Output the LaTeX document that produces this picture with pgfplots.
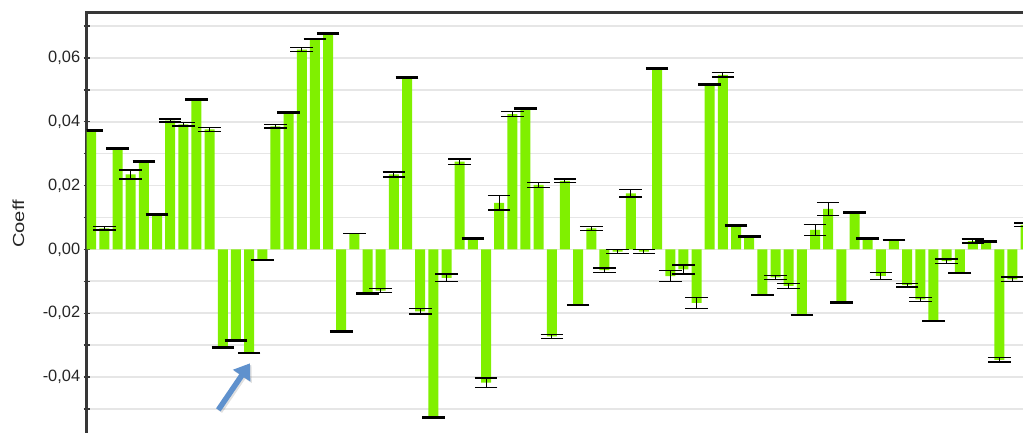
\documentclass[border=0pt]{standalone}
\usepackage{pgfplots}
\pgfplotsset{compat=1.18}
\usepackage{pgfplotstable}
\usepackage{graphicx}
\usepackage{fontspec}
\setmainfont{Liberation Sans}
\usetikzlibrary{arrows.meta}

\definecolor{barg}{RGB}{128,240,0}
\definecolor{gridc}{RGB}{230,230,230}
\definecolor{arrowc}{RGB}{95,145,205}
\definecolor{framec}{RGB}{55,55,55}

% coefficient, half-width of its error interval
\pgfplotstableread{
i v e
1 0.0373 0.0002
2 0.0066 0.0005
3 0.0316 0.0002
4 0.0235 0.0014
5 0.0275 0.0002
6 0.0110 0.0002
7 0.0404 0.0005
8 0.0392 0.0005
9 0.0470 0.0002
10 0.0376 0.0006
11 -0.0308 0.0002
12 -0.0285 0.0002
13 -0.0325 0.0002
14 -0.0033 0.0002
15 0.0386 0.0006
16 0.0430 0.0002
17 0.0626 0.0006
18 0.0660 0.0002
19 0.0676 0.0002
20 -0.0257 0.0002
21 0.0049 0
22 -0.0139 0.0002
23 -0.0129 0.0006
24 0.0235 0.0008
25 0.0538 0.0002
26 -0.0194 0.0008
27 -0.0526 0.0002
28 -0.0089 0.0012
29 0.0275 0.0008
30 0.0034 0.0002
31 -0.0418 0.0015
32 0.0146 0.0023
33 0.0424 0.0008
34 0.0441 0.0002
35 0.0202 0.0008
36 -0.0273 0.0006
37 0.0215 0.0006
38 -0.0174 0.0002
39 0.0066 0.0006
40 -0.0065 0.0007
41 -0.0007 0.0006
42 0.0176 0.0012
43 -0.0007 0.0006
44 0.0567 0.0002
45 -0.0084 0.0017
46 -0.0063 0.0014
47 -0.0168 0.0018
48 0.0516 0.0002
49 0.0547 0.0007
50 0.0074 0.0002
51 0.0041 0.0002
52 -0.0143 0.0002
53 -0.0088 0.0006
54 -0.0114 0.0008
55 -0.0206 0.0002
56 0.0061 0.0017
57 0.0127 0.0020
58 -0.0166 0.0002
59 0.0116 0.0002
60 0.0035 0.0002
61 -0.0083 0.0011
62 0.0029 0.0002
63 -0.0112 0.0006
64 -0.0157 0.0007
65 -0.0224 0.0002
66 -0.0037 0.0007
67 -0.0074 0.0002
68 0.0026 0.0006
69 0.0024 0.0002
70 -0.0346 0.0007
71 -0.0094 0.0007
72 0.0077 0.0006
}\coef

\begin{document}
\begin{tikzpicture}
\useasboundingbox (0,0) rectangle (1023pt,432pt);
\clip (0,0) rectangle (1023pt,432pt);
\begin{axis}[
  name=ax,
  at={(86.7pt,419.3pt)}, anchor=north west,
  scale only axis, width=965.2pt, height=428.1pt,
  xmin=0.658, xmax=74, ymin=-0.06, ymax=0.0742,
  xtick=\empty,
  scaled y ticks=false,
  ytick={-0.04,-0.02,0,0.02,0.04,0.06},
  yticklabels={{-0,04},{-0,02},{0,00},{0,02},{0,04},{0,06}},
  minor ytick={-0.05,-0.03,-0.01,0.01,0.03,0.05,0.07},
  ymajorgrids, yminorgrids,
  major grid style={gridc, line width=1.6pt},
  minor grid style={gridc, line width=1.6pt},
  tick align=center, major tick length=6pt, minor tick length=6pt,
  ytick pos=left,
  tick style={framec, line width=1.3pt},
  axis line style={framec, line width=2.8pt},
  yticklabel style={font=\fontsize{16.4}{18}\selectfont, text=black!85},
  ylabel={\scalebox{1.26}[1]{Coeff}},
  every axis y label/.style={at={([xshift=-68.2pt]rel axis cs:0,0.5064)},
    rotate=90, anchor=center, font=\fontsize{16}{18}\selectfont, text=black!85},
]
\addplot[ybar, bar width=10pt, bar shift=0pt, fill=barg, draw=none,
  error bars/.cd, y dir=both, y explicit,
  error bar style={black, line width=1pt},
  error mark options={black, rotate=90, mark size=11.3pt, line width=1.4pt}]
  table[x=i, y=v, y error=e] {\coef};
% pointer to the third of the three large negative coefficients
\draw[line width=5.5pt, black, opacity=0.12, -{Triangle[length=15pt, width=20pt]}]
  ([xshift=1.5pt, yshift=-1.5pt]axis cs:10.66,-0.0503) -- ([xshift=1.5pt, yshift=-1.5pt]axis cs:13.07,-0.0357);
\draw[line width=5.5pt, arrowc, -{Triangle[length=15pt, width=20pt]}]
  (axis cs:10.66,-0.0503) -- (axis cs:13.07,-0.0357);
\end{axis}
\end{tikzpicture}
\end{document}
